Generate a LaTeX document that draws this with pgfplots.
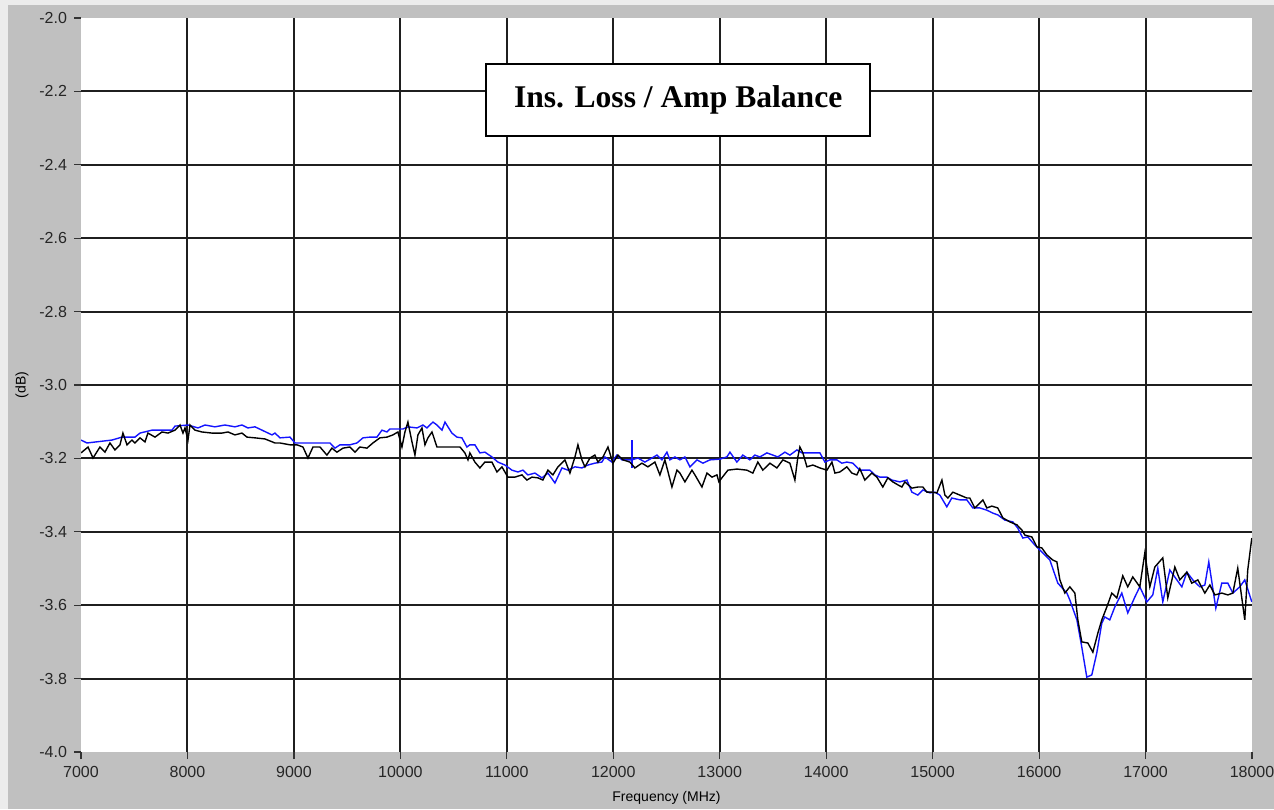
\documentclass[border=0pt]{standalone}
\usepackage{pgfplots}
\pgfplotsset{compat=1.18}
\usepackage{fontspec}
\setmainfont{Liberation Serif}
\setsansfont{Liberation Sans}
\definecolor{panel}{RGB}{192,192,192}
\definecolor{edge}{RGB}{236,236,236}
\definecolor{trace}{RGB}{20,20,255}

\begin{document}
\begin{tikzpicture}
\useasboundingbox (-40.5pt,-28.5pt) rectangle (596.5pt,376pt);
\fill[panel] (-40.5pt,-28.5pt) rectangle (596.5pt,376pt);
\fill[edge] (-40.5pt,373.5pt) rectangle (596.5pt,376pt);
\fill[edge] (-40.5pt,-28.5pt) rectangle (-36.5pt,376pt);
\begin{axis}[
	at={(0,0)}, anchor=south west,
	scale only axis,
	width=585.5pt, height=367pt,
	xmin=7000, xmax=18000,
	ymin=-4.0, ymax=-2.0,
	scaled x ticks=false,
	axis background/.style={fill=white},
	axis line style={draw=none},
	xtick={7000,8000,...,18000},
	xticklabels={7000,8000,9000,10000,11000,12000,13000,14000,15000,16000,17000,18000},
	ytick={-4.0,-3.8,...,-2.0},
	yticklabels={-4.0,-3.8,-3.6,-3.4,-3.2,-3.0,-2.8,-2.6,-2.4,-2.2,-2.0},
	minor xtick={8000,9000,...,17000},
	minor ytick={-3.8,-3.6,-3.4,-3.2,-3.0,-2.8,-2.6,-2.4,-2.2},
	xminorgrids=true, yminorgrids=true,
	minor grid style={black!88, line width=1pt},
	minor tick length=0pt,
	tick align=outside,
	major tick length=3.5pt,
	tick style={black!80, line width=0.6pt},
	xtick pos=bottom, ytick pos=left,
	ticklabel style={font=\sffamily\fontsize{8}{9}\selectfont, text=black!85},
	xlabel={Frequency (MHz)},
	ylabel={(dB)},
	label style={font=\sffamily\fontsize{7}{8}\selectfont},
	xlabel style={at={(axis description cs:0.5,0)}, anchor=center, yshift=-23pt},
	ylabel style={at={(axis description cs:0,0.5)}, anchor=center, yshift=29.5pt},
	clip=true,
]

% blue trace
\addplot[trace, line width=0.7pt] coordinates {
(7000,-3.150)(7056,-3.158)(7291,-3.150)(7385,-3.142)(7507,-3.142)(7554,-3.131)
(7667,-3.123)(7855,-3.123)(7883,-3.112)(8005,-3.109)(8099,-3.117)(8165,-3.109)
(8258,-3.114)(8352,-3.109)(8446,-3.114)(8512,-3.109)(8568,-3.117)(8634,-3.114)
(8700,-3.123)(8794,-3.136)(8822,-3.131)(8869,-3.144)(8963,-3.142)(9010,-3.158)
(9339,-3.158)(9386,-3.172)(9433,-3.163)(9526,-3.163)(9592,-3.158)(9649,-3.144)
(9714,-3.142)(9780,-3.142)(9827,-3.123)(9874,-3.128)(9902,-3.120)(10024,-3.120)
(10071,-3.114)(10156,-3.117)(10212,-3.109)(10250,-3.117)(10306,-3.101)(10344,-3.109)
(10391,-3.123)(10419,-3.101)(10484,-3.131)(10531,-3.142)(10578,-3.144)(10625,-3.169)
(10653,-3.163)(10700,-3.163)(10747,-3.185)(10794,-3.183)(10860,-3.196)(10916,-3.210)
(10982,-3.218)(11048,-3.232)(11104,-3.237)(11151,-3.232)(11198,-3.245)(11264,-3.240)
(11330,-3.253)(11386,-3.240)(11452,-3.267)(11518,-3.226)(11574,-3.232)(11640,-3.223)
(11705,-3.226)(11762,-3.218)(11827,-3.213)(11893,-3.210)(11921,-3.196)(11987,-3.210)
(12034,-3.191)(12081,-3.204)(12175,-3.204)(12231,-3.199)(12297,-3.210)(12363,-3.199)
(12410,-3.191)(12457,-3.204)(12504,-3.183)(12532,-3.204)(12579,-3.196)(12626,-3.204)
(12673,-3.196)(12720,-3.223)(12786,-3.204)(12842,-3.213)(12908,-3.204)(13002,-3.202)
(13067,-3.196)(13096,-3.183)(13161,-3.210)(13217,-3.191)(13283,-3.204)(13330,-3.191)
(13377,-3.196)(13443,-3.185)(13499,-3.191)(13546,-3.196)(13612,-3.183)(13659,-3.191)
(13725,-3.177)(13772,-3.185)(13847,-3.185)(13941,-3.185)(13988,-3.210)(14035,-3.204)
(14100,-3.204)(14147,-3.213)(14194,-3.210)(14251,-3.213)(14316,-3.232)(14410,-3.232)
(14457,-3.245)(14504,-3.251)(14570,-3.251)(14617,-3.259)(14692,-3.264)(14758,-3.259)
(14805,-3.292)(14861,-3.300)(14908,-3.286)(14974,-3.294)(15021,-3.292)(15068,-3.300)
(15133,-3.332)(15180,-3.308)(15256,-3.313)(15321,-3.313)(15378,-3.335)(15443,-3.335)
(15509,-3.341)(15565,-3.349)(15612,-3.354)(15678,-3.368)(15753,-3.373)(15800,-3.390)
(15847,-3.417)(15894,-3.414)(15960,-3.436)(16026,-3.455)(16101,-3.477)(16176,-3.540)
(16261,-3.567)(16289,-3.586)(16355,-3.640)(16401,-3.714)(16448,-3.796)(16495,-3.790)
(16542,-3.730)(16589,-3.649)(16617,-3.632)(16664,-3.640)(16711,-3.605)(16777,-3.567)
(16833,-3.621)(16899,-3.578)(16946,-3.550)(17012,-3.591)(17068,-3.572)(17115,-3.499)
(17162,-3.591)(17228,-3.504)(17294,-3.531)(17341,-3.550)(17388,-3.510)(17444,-3.531)
(17510,-3.550)(17557,-3.545)(17594,-3.482)(17660,-3.608)(17716,-3.540)(17773,-3.540)
(17820,-3.567)(17885,-3.550)(17932,-3.531)(17998,-3.591)
};

% blue marker
\addplot[trace, line width=0.7pt] coordinates {(12175,-3.150)(12175,-3.226)};

% black trace
\addplot[black, line width=0.7pt] coordinates {
(7000,-3.185)(7066,-3.169)(7113,-3.199)(7178,-3.169)(7225,-3.183)(7272,-3.158)
(7319,-3.177)(7366,-3.163)(7394,-3.131)(7432,-3.163)(7479,-3.150)(7507,-3.158)
(7554,-3.144)(7601,-3.155)(7629,-3.131)(7695,-3.142)(7761,-3.128)(7817,-3.131)
(7883,-3.123)(7930,-3.109)(7958,-3.131)(7977,-3.117)(8005,-3.150)(8024,-3.109)
(8071,-3.123)(8136,-3.128)(8230,-3.131)(8324,-3.131)(8381,-3.128)(8446,-3.136)
(8512,-3.131)(8559,-3.142)(8634,-3.144)(8728,-3.147)(8822,-3.158)(8869,-3.158)
(8963,-3.163)(9029,-3.163)(9085,-3.169)(9132,-3.199)(9179,-3.169)(9245,-3.169)
(9310,-3.191)(9357,-3.172)(9404,-3.183)(9461,-3.172)(9526,-3.169)(9573,-3.183)
(9620,-3.169)(9686,-3.172)(9742,-3.158)(9808,-3.144)(9874,-3.142)(9930,-3.136)
(9977,-3.128)(10015,-3.169)(10043,-3.128)(10071,-3.101)(10109,-3.155)(10137,-3.191)
(10165,-3.136)(10203,-3.117)(10231,-3.163)(10259,-3.144)(10297,-3.128)(10344,-3.169)
(10400,-3.169)(10494,-3.169)(10560,-3.169)(10606,-3.185)(10635,-3.204)(10653,-3.185)
(10700,-3.210)(10747,-3.226)(10794,-3.210)(10860,-3.210)(10907,-3.237)(10954,-3.223)
(11010,-3.251)(11076,-3.251)(11142,-3.245)(11189,-3.259)(11236,-3.251)(11292,-3.253)
(11339,-3.259)(11386,-3.232)(11433,-3.245)(11480,-3.223)(11546,-3.204)(11593,-3.240)
(11640,-3.196)(11668,-3.163)(11705,-3.204)(11734,-3.223)(11781,-3.199)(11827,-3.191)
(11856,-3.210)(11903,-3.196)(11950,-3.169)(11997,-3.213)(12044,-3.191)(12091,-3.204)
(12156,-3.210)(12203,-3.226)(12269,-3.213)(12325,-3.223)(12391,-3.210)(12438,-3.245)
(12485,-3.204)(12551,-3.278)(12598,-3.232)(12626,-3.240)(12673,-3.264)(12739,-3.232)
(12767,-3.245)(12833,-3.278)(12880,-3.240)(12927,-3.251)(12974,-3.245)(12992,-3.264)
(13020,-3.253)(13077,-3.232)(13161,-3.229)(13255,-3.232)(13311,-3.240)(13358,-3.210)
(13405,-3.232)(13471,-3.213)(13537,-3.226)(13593,-3.204)(13659,-3.213)(13706,-3.259)
(13734,-3.196)(13753,-3.169)(13781,-3.185)(13819,-3.223)(13875,-3.218)(13941,-3.226)
(14007,-3.232)(14054,-3.210)(14082,-3.240)(14129,-3.237)(14194,-3.223)(14241,-3.240)
(14288,-3.245)(14316,-3.228)(14363,-3.259)(14429,-3.240)(14476,-3.251)(14532,-3.278)
(14579,-3.253)(14626,-3.264)(14673,-3.272)(14711,-3.278)(14739,-3.264)(14805,-3.281)
(14861,-3.278)(14908,-3.278)(14946,-3.292)(14993,-3.292)(15040,-3.294)(15087,-3.259)
(15115,-3.300)(15143,-3.308)(15190,-3.292)(15256,-3.300)(15321,-3.308)(15349,-3.308)
(15396,-3.335)(15425,-3.327)(15472,-3.313)(15509,-3.335)(15556,-3.330)(15612,-3.335)
(15659,-3.362)(15725,-3.373)(15791,-3.381)(15838,-3.395)(15866,-3.409)(15932,-3.414)
(15979,-3.441)(16026,-3.444)(16073,-3.463)(16129,-3.477)(16167,-3.482)(16195,-3.531)
(16242,-3.567)(16289,-3.550)(16336,-3.567)(16364,-3.640)(16401,-3.700)(16458,-3.703)
(16505,-3.728)(16552,-3.676)(16589,-3.640)(16636,-3.605)(16683,-3.567)(16730,-3.580)
(16786,-3.520)(16833,-3.550)(16880,-3.523)(16946,-3.550)(16993,-3.458)(17040,-3.550)
(17087,-3.496)(17162,-3.471)(17209,-3.580)(17275,-3.496)(17322,-3.531)(17388,-3.510)
(17434,-3.540)(17491,-3.531)(17557,-3.567)(17604,-3.545)(17651,-3.572)(17716,-3.567)
(17773,-3.572)(17820,-3.567)(17866,-3.499)(17904,-3.580)(17932,-3.640)(17960,-3.504)
(17998,-3.417)
};

\node[draw=black, line width=0.8pt, fill=white, minimum width=192pt, minimum height=36pt,
      font=\rmfamily\bfseries\fontsize{15.8}{18}\selectfont]
      at (rel axis cs:0.51,0.888) {Ins. Loss / Amp Balance};
\end{axis}
\end{tikzpicture}
\end{document}
